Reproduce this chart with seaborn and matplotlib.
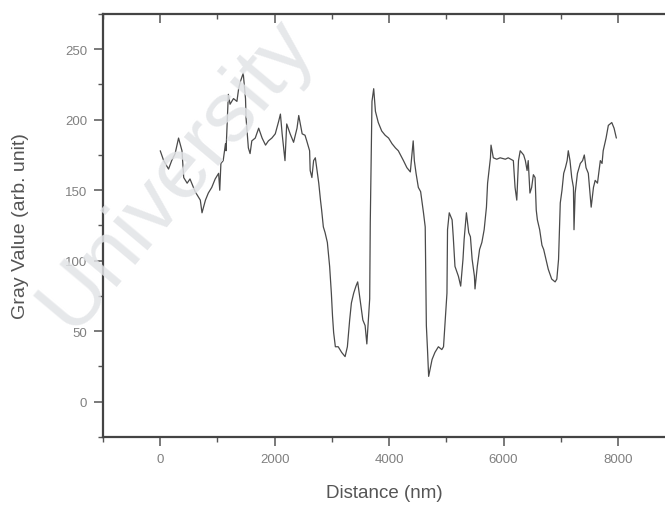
import matplotlib
matplotlib.use("Agg")
import matplotlib.pyplot as plt
from matplotlib.ticker import MultipleLocator
import seaborn as sns
import pandas as pd

distance_nm = [
    0, 60, 145, 200, 260, 320, 380, 410, 470, 520, 610, 700, 730, 790, 840, 900,
    960, 1020, 1040, 1060, 1100, 1140, 1150, 1190, 1220, 1280, 1340, 1370, 1400,
    1450, 1490, 1500, 1540, 1570, 1600, 1660, 1720, 1780, 1840, 1890, 1950, 2010,
    2070, 2100, 2130, 2180, 2210, 2270, 2330, 2390, 2420, 2480, 2530, 2560, 2610,
    2620, 2650, 2680, 2710, 2770, 2800, 2820, 2850, 2880, 2920, 2960, 2990, 3010,
    3030, 3060, 3110, 3170, 3230, 3270, 3310, 3340, 3380, 3420, 3450, 3490, 3540,
    3580, 3610, 3660, 3670, 3700, 3730, 3760, 3810, 3870, 3930, 3990, 4050, 4110,
    4160, 4250, 4310, 4370, 4420, 4440, 4470, 4510, 4550, 4600, 4630, 4650, 4670,
    4690, 4750, 4800, 4860, 4920, 4950, 4980, 5010, 5020, 5050, 5100, 5120, 5150,
    5210, 5250, 5290, 5310, 5350, 5390, 5420, 5450, 5490, 5500, 5540, 5580, 5620,
    5660, 5700, 5720, 5750, 5770, 5780, 5820, 5880, 5940, 6030, 6080, 6170, 6200,
    6230, 6260, 6290, 6350, 6380, 6410, 6430, 6460, 6490, 6520, 6550, 6570, 6590,
    6630, 6670, 6700, 6740, 6780, 6840, 6900, 6930, 6960, 6990, 7020, 7050, 7080,
    7110, 7130, 7160, 7190, 7220, 7230, 7250, 7290, 7340, 7380, 7410, 7440, 7480,
    7510, 7530, 7570, 7600, 7640, 7690, 7720, 7740, 7790, 7830, 7890, 7930, 7970,
]
gray_value = [
    178, 171, 165, 171, 176, 187, 178, 159, 155, 158, 149, 143, 134, 143, 148, 152,
    158, 162, 150, 169, 171, 183, 178, 218, 211, 215, 213, 222, 227,
    233, 215, 201, 180, 176, 185, 187, 194, 187, 182, 185, 187, 190,
    199, 204, 190, 171, 197, 190, 184, 194, 203, 190, 189, 185, 178,
    164, 159, 171, 173, 155, 143, 136, 124, 120, 113, 96, 77, 61,
    49, 39, 39, 35, 32, 39, 58, 70, 77, 82, 85, 73, 58,
    54, 41, 73, 127, 213, 222, 206, 198, 192, 189, 187, 183, 180,
    178, 171, 166, 163, 185, 171, 162, 152, 149, 134, 124, 54, 37,
    18, 30, 35, 39, 37, 39, 58, 77, 122, 134, 129, 117, 96,
    89, 82, 101, 115, 134, 120, 117, 101, 89, 80, 96, 108, 113,
    122, 138, 155, 166, 173, 182, 173, 172, 173, 172, 173, 171, 152,
    143, 171, 178, 175, 171, 164, 171, 148, 152, 161, 159, 136, 129,
    122, 111, 108, 101, 94, 87, 85, 87, 101, 141, 150, 162, 166,
    171, 178, 171, 159, 152, 122, 148, 162, 169, 171, 175, 166, 162,
    148, 138, 152, 157, 155, 171, 169, 178, 187, 196, 198, 194, 187,
]

x_major_ticks = [0, 2000, 4000, 6000, 8000]
y_major_ticks = [0, 50, 100, 150, 200, 250]

df = pd.DataFrame({"Distance (nm)": distance_nm, "Gray Value": gray_value})

sns.set_style("ticks")
plt.rcParams["font.family"] = ["Liberation Sans", "DejaVu Sans"]

fig = plt.figure(figsize=(6.65, 5.06), dpi=100)
ax = fig.add_axes([0.1549, 0.1344, 0.8451, 0.836])

sns.lineplot(data=df, x="Distance (nm)", y="Gray Value", sort=False,
             color="#4a4a4a", linewidth=0.9, ax=ax)

ax.set_xlim(-1000, 8820)
ax.set_ylim(-25, 275)
ax.set_xticks(x_major_ticks)
ax.set_yticks(y_major_ticks)
ax.xaxis.set_minor_locator(MultipleLocator(1000))
ax.yaxis.set_minor_locator(MultipleLocator(25))

for side in ["left", "bottom", "top"]:
    ax.spines[side].set_color("#444444")
    ax.spines[side].set_linewidth(1.6)
ax.spines["right"].set_visible(False)

ax.tick_params(axis="both", which="major", direction="out", length=6.5, width=1.1,
               color="#555555", labelsize=9.5, labelcolor="#808080", pad=5)
ax.tick_params(axis="both", which="minor", direction="out", length=3.5, width=1.0,
               color="#555555")
ax.tick_params(axis="x", which="both", top=True)
ax.tick_params(axis="y", which="both", right=False)
# top ticks point inward
for t in ax.xaxis.get_major_ticks() + ax.xaxis.get_minor_ticks():
    t.tick2line.set_marker(matplotlib.lines.TICKDOWN)

ax.set_xlabel("Distance (nm)", fontsize=13.5, color="#555555", labelpad=14)
ax.set_ylabel("Gray Value (arb. unit)", fontsize=14, color="#555555", labelpad=26)

fig.text(0.265, 0.655, "University", rotation=50, fontsize=62, color="#e2e4e7",
         alpha=0.85, ha="center", va="center", zorder=10,
         family=["Liberation Sans", "DejaVu Sans"])

fig.savefig("out.png", dpi=100, facecolor="white")
